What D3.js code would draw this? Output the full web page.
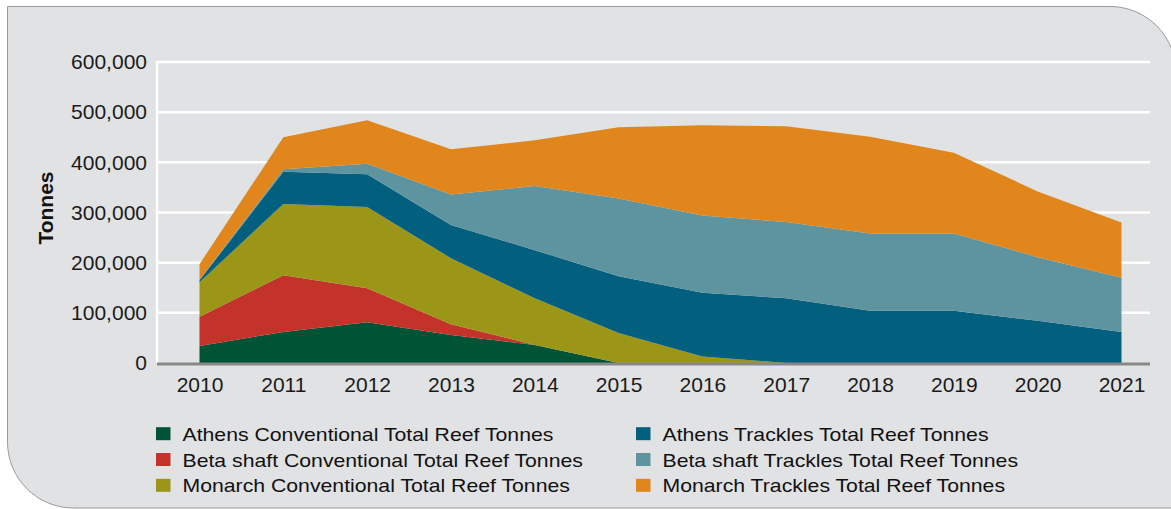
<!DOCTYPE html>
<html>
<head>
<meta charset="utf-8">
<script src="https://cdn.jsdelivr.net/npm/d3@7"></script>
<style>
  html, body { margin: 0; padding: 0; background: #ffffff; }
  svg { display: block; font-family: "Liberation Sans", Arial, Helvetica, sans-serif; }
</style>
</head>
<body>
<svg id="chart" width="1171" height="509"></svg>
<script>
// Reef tonnes by shaft and mining method, 2010-2021
const years = [2010, 2011, 2012, 2013, 2014, 2015, 2016, 2017, 2018, 2019, 2020, 2021];

const athensConventional  = [34000, 62000, 81000, 56000, 36000, 0, 0, 0, 0, 0, 0, 0];
const betaConventional    = [58000, 113000, 68000, 21000, 0, 0, 0, 0, 0, 0, 0, 0];
const monarchConventional = [69000, 142000, 162000, 132000, 93000, 60000, 13000, 0, 0, 0, 0, 0];
const athensTrackles      = [4000, 64000, 65000, 66000, 96000, 113000, 127000, 129000, 104000, 104000, 84000, 62000];
const betaTrackles        = [1000, 5000, 21000, 61000, 128000, 155000, 154000, 152000, 154000, 154000, 127000, 108000];
const monarchTrackles     = [31000, 64000, 87000, 90000, 91000, 142000, 180000, 191000, 193000, 161000, 131000, 110000];

const seriesNames = [
  "Athens Conventional Total Reef Tonnes",
  "Beta shaft Conventional Total Reef Tonnes",
  "Monarch Conventional Total Reef Tonnes",
  "Athens Trackles Total Reef Tonnes",
  "Beta shaft Trackles Total Reef Tonnes",
  "Monarch Trackles Total Reef Tonnes"
];
const seriesValues = [athensConventional, betaConventional, monarchConventional,
                      athensTrackles, betaTrackles, monarchTrackles];
const seriesColors = ["#015335", "#c4332a", "#9c9618", "#035f7e", "#5e94a0", "#e0861d"];

const yTicks = [0, 100000, 200000, 300000, 400000, 500000, 600000];

// Rows for the stack layout
const rows = years.map((yr, i) => {
  const r = { year: yr };
  seriesNames.forEach((n, k) => { r[n] = seriesValues[k][i]; });
  return r;
});

const svg = d3.select("#chart");

// Panel with two rounded corners (top-right, bottom-left)
const px0 = 7.5, py0 = 6.5, px1 = 1176, py1 = 508, rad = 66;
const panel = d3.path();
panel.moveTo(px0, py0);
panel.lineTo(px1 - rad, py0);
panel.arcTo(px1, py0, px1, py0 + rad, rad);
panel.lineTo(px1, py1);
panel.lineTo(px0 + rad, py1);
panel.arcTo(px0, py1, px0, py1 - rad, rad);
panel.closePath();
svg.append("path").attr("d", panel.toString())
  .attr("fill", "#e1e2e3").attr("stroke", "#9a9a9a").attr("stroke-width", 1);

// Scales
const plotLeft = 157, plotRight = 1150;
const x = d3.scaleLinear().domain([years[0], years[years.length - 1]]).range([199.5, 1121.5]);
const y = d3.scaleLinear().domain([0, 600000]).range([363, 62]);

// Gridlines
svg.append("g").selectAll("line").data(yTicks.filter(d => d > 0)).join("line")
  .attr("x1", plotLeft).attr("x2", plotRight)
  .attr("y1", d => y(d)).attr("y2", d => y(d))
  .attr("stroke", "#ffffff").attr("stroke-width", 2.5);
svg.append("line")
  .attr("x1", plotLeft).attr("x2", plotLeft)
  .attr("y1", y(600000) - 1).attr("y2", y(0))
  .attr("stroke", "#ffffff").attr("stroke-width", 2.5);

// Stacked areas
const stack = d3.stack().keys(seriesNames);
const layers = stack(rows);
const area = d3.area()
  .x(d => x(d.data.year))
  .y0(d => y(d[0]))
  .y1(d => y(d[1]));

svg.append("g").selectAll("path").data(layers).join("path")
  .attr("d", area)
  .attr("fill", (d, i) => seriesColors[i]);

// Baseline
svg.append("line")
  .attr("x1", plotLeft).attr("x2", plotRight)
  .attr("y1", y(0) + 1).attr("y2", y(0) + 1)
  .attr("stroke", "#888888").attr("stroke-width", 3);

// Y axis labels
const yAxis = svg.append("g").attr("transform", `translate(${plotLeft},0)`)
  .call(d3.axisLeft(y).tickValues(yTicks).tickFormat(d3.format(",")).tickSize(0).tickPadding(10));
yAxis.select(".domain").remove();
yAxis.selectAll("text")
  .attr("font-size", 21).attr("fill", "#1a1a1a")
  .attr("font-family", "'Liberation Sans', Arial, sans-serif");

// X axis labels
const xAxis = svg.append("g").attr("transform", `translate(0,${y(0)})`)
  .call(d3.axisBottom(x).tickValues(years).tickFormat(d3.format("d")).tickSize(0).tickPadding(14));
xAxis.select(".domain").remove();
xAxis.selectAll("text")
  .attr("font-size", 21).attr("fill", "#1a1a1a")
  .attr("font-family", "'Liberation Sans', Arial, sans-serif");

// Y axis title
svg.append("text")
  .attr("transform", "translate(53,208) rotate(-90)")
  .attr("text-anchor", "middle")
  .attr("font-size", 21).attr("font-weight", "bold").attr("fill", "#111")
  .text("Tonnes");

// Legend: two columns of three rows
const legendCols = [156, 636];
const legendRowY = [433.7, 459.5, 485.3];
const legend = svg.append("g");
seriesNames.forEach((name, i) => {
  const col = Math.floor(i / 3), row = i % 3;
  const lx = legendCols[col], ly = legendRowY[row];
  legend.append("rect")
    .attr("x", lx).attr("y", ly - 6.5).attr("width", 14.5).attr("height", 13)
    .attr("fill", seriesColors[i]);
  legend.append("text")
    .attr("transform", `translate(${lx + 26.5},${ly + 7}) scale(1.18,1)`)
    .attr("font-size", 18).attr("fill", "#111")
    .text(name);
});
</script>
</body>
</html>
